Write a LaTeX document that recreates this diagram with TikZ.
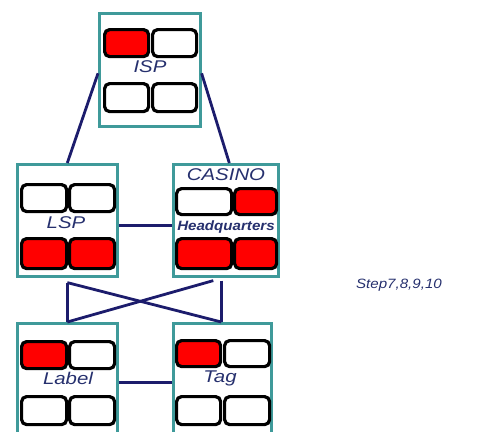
\documentclass[tikz,border=0pt]{standalone}
\usepackage{fontspec}
\setmainfont{Liberation Sans}
\usepackage{graphicx}
\definecolor{tealbox}{HTML}{3F9A9A}
\definecolor{navy}{HTML}{1C1C6C}
\definecolor{txt}{HTML}{26306E}
\definecolor{redfill}{HTML}{FF0000}
\tikzset{
  box/.style={draw=tealbox, line width=2.6pt, fill=white, inner sep=0pt, anchor=north west},
  cell/.style={draw=black, line width=3.2pt, rounded corners=5pt, inner sep=0pt, anchor=north west},
  on/.style={cell, fill=redfill},
  off/.style={cell, fill=white},
  conn/.style={draw=navy, line width=2.8pt},
  lbl/.style={text=txt, font=\fontsize{17}{19}\selectfont\itshape, inner sep=0pt},
  sublbl/.style={text=txt, font=\fontsize{13.5}{15}\selectfont\bfseries\itshape, inner sep=0pt}
}
\newcommand{\wide}[1]{\scalebox{1.2}[1]{#1}}
\begin{document}
\begin{tikzpicture}[x=1pt,y=-1pt]
\useasboundingbox (0,0) rectangle (483,432);
% boxes
\node[box, minimum width=101pt, minimum height=113pt] (isp) at (98,12) {};
\node[box, minimum width=100pt, minimum height=112pt] (lsp) at (16,163) {};
\node[box, minimum width=105pt, minimum height=112pt] (casino) at (172,163) {};
\node[box, minimum width=100pt, minimum height=118pt] (label) at (16,322) {};
\node[box, minimum width=98pt, minimum height=118pt] (tag) at (172,322) {};
% connectors
\draw[conn] ([yshift=-3.5pt]isp.west) -- (lsp.north);
\draw[conn] ([yshift=-3.5pt]isp.east) -- ([xshift=3.5pt]casino.north);
\draw[conn] ([yshift=-5pt]lsp.east) -- ([yshift=-5pt]casino.west);
\draw[conn] (label.east) -- (tag.west);
\coordinate (lb) at ([yshift=-5pt]lsp.south);
\coordinate (cb) at ([xshift=-4.5pt,yshift=-3pt]casino.south);
\coordinate (cd) at ([xshift=-12.5pt,yshift=-3pt]casino.south);
\draw[conn] (lb) -- (label.north);
\draw[conn] (lb) -- ([xshift=-1pt]tag.north);
\draw[conn] (cb) -- ([xshift=-1pt]tag.north);
\draw[conn] (cd) -- (label.north);
% ISP cells
\node[on,  minimum width=44pt, minimum height=27pt] (i1) at (103,28) {};
\node[off, minimum width=44pt, minimum height=27pt] (i2) at (151,28) {};
\node[off, minimum width=44pt, minimum height=28pt] (i3) at (103,82) {};
\node[off, minimum width=44pt, minimum height=28pt] (i4) at (151,82) {};
\node[lbl] (tisp) at (150,67) {\wide{ISP}};
% LSP cells
\node[off, minimum width=45pt, minimum height=27pt] (l1) at (20,183) {};
\node[off, minimum width=45pt, minimum height=27pt] (l2) at (68,183) {};
\node[on,  minimum width=45pt, minimum height=30pt] (l3) at (20,237) {};
\node[on,  minimum width=45pt, minimum height=30pt] (l4) at (68,237) {};
\node[lbl] (tlsp) at (66,223) {\wide{LSP}};
% CASINO cells
\node[off, minimum width=55pt, minimum height=26pt] (c1) at (175,187) {};
\node[on,  minimum width=42pt, minimum height=26pt] (c2) at (233,187) {};
\node[on,  minimum width=55pt, minimum height=30pt] (c3) at (175,237) {};
\node[on,  minimum width=42pt, minimum height=30pt] (c4) at (233,237) {};
\node[lbl] (tcas) at (226,175) {\wide{CASINO}};
\node[sublbl] (thq) at (226,227) {\scalebox{1.12}[1]{Headquarters}};
% Label cells
\node[on,  minimum width=45pt, minimum height=27pt] (b1) at (20,340) {};
\node[off, minimum width=45pt, minimum height=27pt] (b2) at (68,340) {};
\node[off, minimum width=45pt, minimum height=28pt] (b3) at (20,395) {};
\node[off, minimum width=45pt, minimum height=28pt] (b4) at (68,395) {};
\node[lbl] (tlab) at (68,378) {\wide{Label}};
% Tag cells
\node[on,  minimum width=44pt, minimum height=26pt] (g1) at (175,339) {};
\node[off, minimum width=45pt, minimum height=26pt] (g2) at (223,339) {};
\node[off, minimum width=44pt, minimum height=28pt] (g3) at (175,395) {};
\node[off, minimum width=45pt, minimum height=28pt] (g4) at (223,395) {};
\node[lbl] (ttag) at (220,378) {\wide{Tag}};
% step
\node[text=txt, font=\fontsize{13.5}{15}\selectfont\itshape, inner sep=0pt] (step) at (399,285) {\scalebox{1.12}[1]{Step7,8,9,10}};
\end{tikzpicture}
\end{document}
